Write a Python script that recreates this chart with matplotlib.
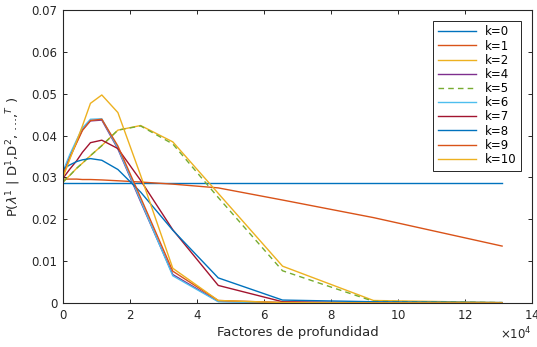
import numpy as np
import matplotlib
matplotlib.use('Agg')
import matplotlib.pyplot as plt
from matplotlib.ticker import ScalarFormatter, FixedLocator, FuncFormatter

# depth factors (2^n)
depth = [1, 2048, 4096, 5793, 8192, 11585, 16384, 23170, 32768, 46341, 65536, 92682, 131072]

k0 = [0.0286, 0.0286, 0.0286, 0.0286, 0.0286, 0.0286, 0.0286, 0.0286, 0.0286, 0.0286, 0.0286, 0.0286, 0.0286]
k1 = [0.0296, 0.0296, 0.0296, 0.0295, 0.0295, 0.0294, 0.0292, 0.0289, 0.0284, 0.0275, 0.0246, 0.0204, 0.0136]
k2 = [0.0289, 0.0305, 0.0322, 0.0334, 0.0352, 0.0376, 0.0413, 0.0424, 0.0385, 0.0262, 0.0088, 0.0006, 0.0001]
k4 = [0.0310, 0.0350, 0.0385, 0.0414, 0.0435, 0.0437, 0.0368, 0.0242, 0.0068, 0.0004, 0.0001, 0.0, 0.0]
k5 = [0.0289, 0.0305, 0.0322, 0.0334, 0.0352, 0.0376, 0.0413, 0.0423, 0.0380, 0.0252, 0.0077, 0.0004, 0.0001]
k6 = [0.0315, 0.0355, 0.0390, 0.0418, 0.0439, 0.0440, 0.0370, 0.0245, 0.0065, 0.0003, 0.0, 0.0, 0.0]
k7 = [0.0298, 0.0320, 0.0340, 0.0360, 0.0383, 0.0389, 0.0369, 0.0293, 0.0175, 0.0042, 0.0003, 0.0001, 0.0]
k8 = [0.0320, 0.0330, 0.0338, 0.0342, 0.0345, 0.0341, 0.0319, 0.0265, 0.0174, 0.0060, 0.0007, 0.0003, 0.0001]
k9 = [0.0305, 0.0347, 0.0383, 0.0412, 0.0436, 0.0439, 0.0375, 0.0252, 0.0076, 0.0006, 0.0001, 0.0, 0.0]
k10 = [0.0300, 0.0344, 0.0387, 0.0423, 0.0477, 0.0497, 0.0455, 0.0305, 0.0083, 0.0006, 0.0001, 0.0, 0.0]

labels = ['k=0', 'k=1', 'k=2', 'k=4', 'k=5', 'k=6', 'k=7', 'k=8', 'k=9', 'k=10']
series = [k0, k1, k2, k4, k5, k6, k7, k8, k9, k10]
colors = ['#0072BD', '#D95319', '#EDB120', '#7E2F8E', '#77AC30',
          '#4DBEEE', '#A2142F', '#0072BD', '#D95319', '#EDB120']

plt.rcParams['font.family'] = ['DejaVu Sans']
fig = plt.figure(figsize=(5.37, 3.47), dpi=100)
ax = fig.add_axes([63/537, 44/347, 469/537, 293/347])

for lab, ys, c in zip(labels, series, colors):
    if lab == 'k=5':
        ax.plot(depth, ys, color=c, lw=1.0, dashes=(4, 3), label=lab)
    else:
        ax.plot(depth, ys, color=c, lw=1.0, label=lab)

ax.set_xlim(0, 140000)
ax.set_ylim(0, 0.07)
ax.xaxis.set_major_locator(FixedLocator(np.arange(0, 140001, 20000)))
ax.yaxis.set_major_locator(FixedLocator(np.arange(0, 0.0701, 0.01)))
fmt = ScalarFormatter(useMathText=True)
fmt.set_powerlimits((4, 4))
ax.xaxis.set_major_formatter(fmt)
ax.yaxis.set_major_formatter(FuncFormatter(lambda v, p: '0' if abs(v) < 1e-9 else f'{v:.2f}'))

dark = '#262626'
for s in ax.spines.values():
    s.set_color(dark)
    s.set_linewidth(0.8)
ax.tick_params(direction='in', length=3, width=0.7, colors=dark, labelsize=8.5,
               top=True, right=True, pad=4)
ax.xaxis.get_offset_text().set_fontsize(8.5)
ax.xaxis.get_offset_text().set_color(dark)

ax.set_xlabel('Factores de profundidad', fontsize=9.5, color=dark, labelpad=3)
ax.set_ylabel(r'P($\lambda^1$ | D$^1$,D$^2$, ...,$^T$ )', fontsize=9.5, color=dark, labelpad=6)

leg = ax.legend(loc='upper right', fontsize=8.5, handlelength=3.2, labelspacing=0.1,
                fancybox=False, framealpha=1, edgecolor=dark, borderpad=0.4,
                borderaxespad=0.9)
leg.get_frame().set_linewidth(0.7)

fig.savefig('out.png', dpi=100)
